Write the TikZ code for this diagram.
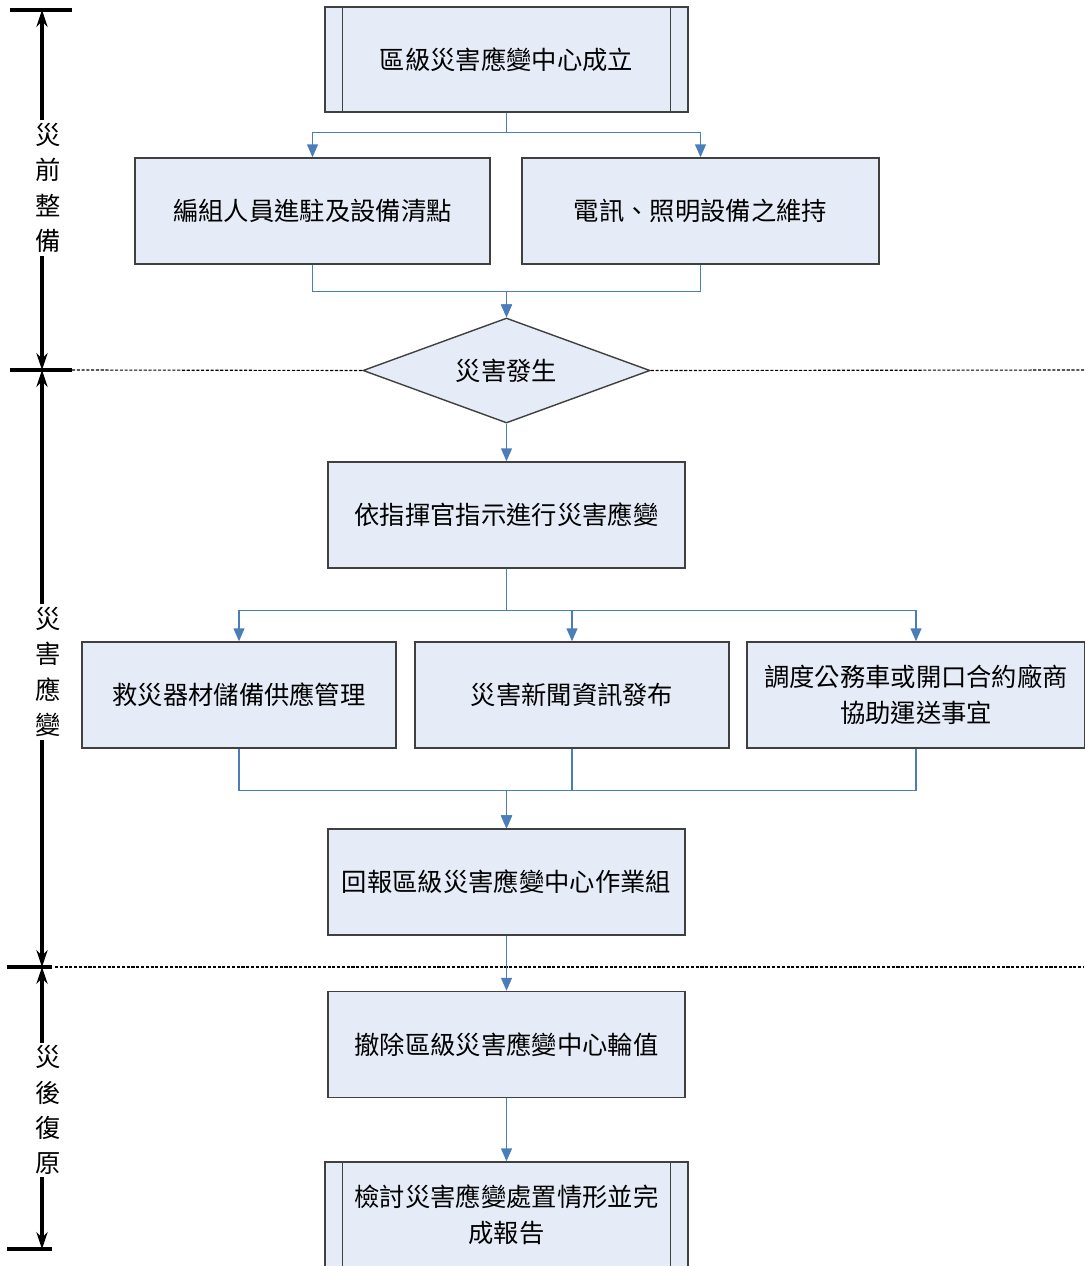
\documentclass[tikz,border=0pt]{standalone}
\usepackage{fontspec}
\setmainfont{Noto Sans CJK TC}
\usepackage{xcolor}
\usepackage{tikz}
\usetikzlibrary{shapes.geometric,arrows.meta}
\definecolor{boxfill}{RGB}{230,236,247}
\definecolor{boxline}{RGB}{64,64,64}
\definecolor{linkblue}{RGB}{74,126,187}

\begin{document}
\begin{tikzpicture}%
                    [x=0.025cm,
                    y=-0.025cm,
                    box/.style={draw=boxline,fill=boxfill,line width=1pt,inner sep=0pt,align=center,minimum height=2.65cm,font=\fontsize{18pt}{25.5pt}\selectfont},
                    decision/.style={diamond,aspect=2.73,draw=boxline,fill=boxfill,line width=1pt,inner sep=0pt,minimum width=7.175cm,minimum height=2.625cm,font=\fontsize{18pt}{25.5pt}\selectfont},
                    link/.style={color=linkblue,line width=0.9pt,-{Triangle[length=0.32cm,width=0.27cm]}},
                    span/.style={color=black,line width=2.2pt,-{Stealth[length=0.42cm,width=0.28cm]}},
                    tick/.style={color=black,line width=3pt},
                    sep/.style={color=black,line width=0.8pt,dash pattern=on 2.2pt off 1.2pt},
                    phase/.style={inner sep=2pt,align=center,font=\fontsize{18pt}{25pt}\selectfont}]

                \useasboundingbox (0,0) rectangle (1084,1266);
                %% Drawing the phase axis
                \coordinate (mark1) at (42,10);
                \coordinate (mark2) at (42,370);
                \coordinate (mark3) at (42,967);
                \coordinate (mark4) at (42,1249);
                \draw[tick] (10,10) -- (72,10);
                \draw[tick] (10,370) -- (72,370);
                \draw[tick] (7,967) -- (52,967);
                \draw[tick] (7,1249) -- (52,1249);
                \node[phase] (phasePre)  at (48,188)  {災\\前\\整\\備};
                \node[phase] (phaseResp) at (48,672)  {災\\害\\應\\變};
                \node[phase] (phasePost) at (48,1110) {災\\後\\復\\原};
                \draw[span] (mark1 |- phasePre.north)  -- (mark1);
                \draw[span] (mark1 |- phasePre.south)  -- (mark2);
                \draw[span] (mark2 |- phaseResp.north) -- (mark2);
                \draw[span] (mark2 |- phaseResp.south) -- (mark3);
                \draw[span] (mark3 |- phasePost.north) -- (mark3);
                \draw[span] (mark3 |- phasePost.south) -- (mark4);
                %%
                %% Drawing the steps
                %%
                \node[box,minimum width=9.075cm,minimum height=2.625cm] (open) at (506.5,59.5) {區級災害應變中心成立};
                \node[box,minimum width=8.875cm] (prepStaff) at (312.5,211) {編組人員進駐及設備清點};
                \node[box,minimum width=8.925cm] (prepComm)  at (700.5,211) {電訊、照明設備之維持};
                \node[decision] (occur) at (506.5,370.5) {災害發生};
                \node[box,minimum width=8.925cm] (respond) at (506.5,515) {依指揮官指示進行災害應變};
                \node[box,minimum width=7.85cm] (taskSupply)    at (239,695) {救災器材儲備供應管理};
                \node[box,minimum width=7.85cm] (taskNews)      at (572,695) {災害新聞資訊發布};
                \node[box,minimum width=8.45cm] (taskTransport) at (916,695) {調度公務車或開口合約廠商\\協助運送事宜};
                \node[box,minimum width=8.925cm] (report) at (506.5,882) {回報區級災害應變中心作業組};
                \node[box,minimum width=8.925cm] (close)  at (506.5,1044.5) {撤除區級災害應變中心輪值};
                \node[box,minimum width=9.075cm,minimum height=2.625cm] (review) at (506.5,1214.5) {檢討災害應變處置情形並完\\成報告};
                \draw[color=boxline,line width=1pt] ([xshift=0.45cm]open.north west) -- ([xshift=0.45cm]open.south west);
                \draw[color=boxline,line width=1pt] ([xshift=-0.45cm]open.north east) -- ([xshift=-0.45cm]open.south east);
                \draw[color=boxline,line width=1pt] ([xshift=0.45cm]review.north west) -- ([xshift=0.45cm]review.south west);
                \draw[color=boxline,line width=1pt] ([xshift=-0.45cm]review.north east) -- ([xshift=-0.45cm]review.south east);
                %% Phase borders
                \draw[sep] (72,370) -- (occur.west);
                \draw[sep] (occur.east) -- (1084,370);
                \draw[sep] (55,967) -- (1084,967);
                %%
                %% Drawing the links
                %%
                \draw[link] (open.south) -- ++(0,20) -| (prepStaff.north);
                \draw[link] (open.south) -- ++(0,20) -| (prepComm.north);
                \draw[link] (prepStaff.south) -- ++(0,27) -| (occur.north);
                \draw[link] (prepComm.south) -- ++(0,27) -| (occur.north);
                \draw[link] (occur.south) -- (respond.north);
                \draw[link] (respond.south) -- ++(0,42) -| (taskSupply.north);
                \draw[link] (respond.south) -- ++(0,42) -| (taskNews.north);
                \draw[link] (respond.south) -- ++(0,42) -| (taskTransport.north);
                \draw[link] (taskSupply.south) -- ++(0,42) -| (report.north);
                \draw[link] (taskNews.south) -- ++(0,42) -| (report.north);
                \draw[link] (taskTransport.south) -- ++(0,42) -| (report.north);
                \draw[link] (report.south) -- (close.north);
                \draw[link] (close.south) -- (review.north);
                %%
                \end{tikzpicture}
\end{document}
